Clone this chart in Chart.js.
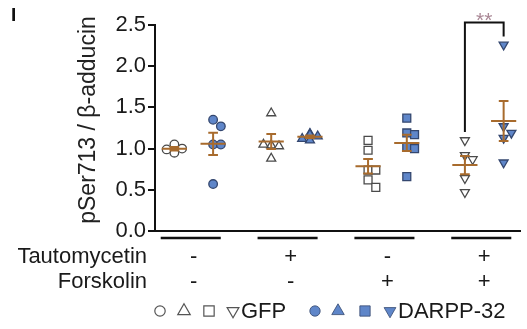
<!DOCTYPE html>
<html>
<head>
<meta charset="utf-8">
<script src="https://cdn.jsdelivr.net/npm/chart.js@4/dist/chart.umd.min.js"></script>
<style>
  html, body { margin: 0; padding: 0; background: #fff; }
  #wrap { width: 527px; height: 329px; }
</style>
</head>
<body>
<div id="wrap"><canvas id="graph" width="527" height="329"></canvas></div>
<script>
// datos
const groups = [0, 1, 2, 3];
const tautomycetin = ["-", "+", "-", "+"];
const forskolin = ["-", "-", "+", "+"];
const gfpValues = [
  [1.05, 0.95, 1.00, 0.99],
  [1.43, 1.04, 1.03, 1.05, 0.88],
  [1.10, 0.98, 0.74, 0.74, 0.62, 0.53],
  [1.10, 0.92, 0.87, 0.64, 0.47]
];
const darppValues = [
  [1.35, 1.27, 1.05, 1.05, 0.57],
  [1.18, 1.15, 1.12, 1.10, 1.17],
  [1.37, 1.19, 1.17, 1.02, 1.00, 0.66],
  [2.26, 1.27, 1.19, 1.13, 0.83]
];
const yTicks = [0, 0.5, 1.0, 1.5, 2.0, 2.5];
const yTitle = "pSer713 / \u03b2-adducin";
const seriesNames = ["GFP", "DARPP-32"];
const markerStyles = ["circle", "triangle", "rect", "triangle"];
const markerRotation = [0, 0, 0, 180];
const significance = "**";

// estilos
const FONT = "'Liberation Sans', Arial, sans-serif";
const blue = "#5f86c9";
const blueEdge = "#34476f";
const openEdge = "#4a4a4a";
const meanColor = "#a86b2d";
const seriesOffset = [-0.2, 0.2];

function mean(a) { return a.reduce((s, v) => s + v, 0) / a.length; }
function sem(a) {
  const m = mean(a);
  const sd = Math.sqrt(a.reduce((s, v) => s + (v - m) * (v - m), 0) / (a.length - 1));
  return sd / Math.sqrt(a.length);
}

// separa los puntos que se tapan (tipo beeswarm)
function swarm(values) {
  const placed = [];
  return values.map((v) => {
    const cands = [0, 0.08, -0.08, 0.15, -0.15];
    for (const dx of cands) {
      const ok = placed.every((p) => Math.abs(p.dx - dx) >= 0.075 || Math.abs(p.v - v) >= 0.1);
      if (ok) { placed.push({ v, dx }); return dx; }
    }
    placed.push({ v, dx: 0 });
    return 0;
  });
}

const datasets = [];
[gfpValues, darppValues].forEach((set, s) => {
  set.forEach((vals, g) => {
    const jit = swarm(vals);
    datasets.push({
      label: seriesNames[s] + " " + (g + 1),
      data: vals.map((v, i) => ({ x: groups[g] + seriesOffset[s] + jit[i], y: v })),
      pointStyle: markerStyles[g],
      rotation: markerRotation[g],
      pointRadius: markerStyles[g] === "circle" ? 4.3 : (markerStyles[g] === "rect" ? 5.6 : 5.2),
      pointHoverRadius: 5,
      backgroundColor: s === 0 ? "#ffffff" : blue,
      borderColor: s === 0 ? openEdge : blueEdge,
      borderWidth: 1.3
    });
  });
});

// media y SEM
const meanSemPlugin = {
  id: "meanSem",
  afterDatasetsDraw(chart) {
    const { ctx, scales: { x, y } } = chart;
    const unit = x.getPixelForValue(1) - x.getPixelForValue(0);
    ctx.save();
    ctx.strokeStyle = meanColor;
    ctx.lineWidth = 2;
    [gfpValues, darppValues].forEach((set, s) => {
      set.forEach((vals, g) => {
        const m = mean(vals), e = sem(vals);
        const cx = x.getPixelForValue(groups[g] + seriesOffset[s]);
        const ym = y.getPixelForValue(m), yt = y.getPixelForValue(m + e), yb = y.getPixelForValue(m - e);
        ctx.beginPath();
        ctx.moveTo(cx - 0.13 * unit, ym); ctx.lineTo(cx + 0.13 * unit, ym);
        ctx.moveTo(cx, yt); ctx.lineTo(cx, yb);
        ctx.moveTo(cx - 0.05 * unit, yt); ctx.lineTo(cx + 0.05 * unit, yt);
        ctx.moveTo(cx - 0.05 * unit, yb); ctx.lineTo(cx + 0.05 * unit, yb);
        ctx.stroke();
      });
    });
    ctx.restore();
  }
};

// textos, barras de condicion, leyenda y corchete
const extrasPlugin = {
  id: "extras",
  afterDraw(chart) {
    const { ctx, scales: { x, y } } = chart;
    const unit = x.getPixelForValue(1) - x.getPixelForValue(0);
    ctx.save();

    // etiqueta del panel
    ctx.fillStyle = "#111";
    ctx.font = "bold 19px " + FONT;
    ctx.textAlign = "left";
    ctx.textBaseline = "alphabetic";
    ctx.fillText("I", 11, 21);

    // titulo eje y
    ctx.save();
    ctx.translate(89, 120);
    ctx.rotate(-Math.PI / 2);
    ctx.font = "23px " + FONT;
    ctx.fillStyle = "#222";
    ctx.textAlign = "center";
    ctx.textBaseline = "middle";
    ctx.fillText(yTitle, 0, 0);
    ctx.restore();

    // barras bajo el eje
    ctx.strokeStyle = "#111";
    ctx.lineWidth = 2.5;
    groups.forEach((g) => {
      const cx = x.getPixelForValue(g) - 3;
      ctx.beginPath();
      ctx.moveTo(cx - 0.31 * unit, y.bottom + 7);
      ctx.lineTo(cx + 0.31 * unit, y.bottom + 7);
      ctx.stroke();
    });

    // filas de tratamiento
    ctx.fillStyle = "#1a1a1a";
    ctx.font = "22px " + FONT;
    ctx.textAlign = "right";
    ctx.fillText("Tautomycetin", 147, 263);
    ctx.fillText("Forskolin", 147, 288);
    ctx.textAlign = "center";
    groups.forEach((g) => {
      const cx = x.getPixelForValue(g);
      ctx.fillText(tautomycetin[g], cx, 263);
      ctx.fillText(forskolin[g], cx, 288);
    });

    // corchete de significancia
    const xl = x.getPixelForValue(groups[3] + seriesOffset[0]);
    const xr = x.getPixelForValue(groups[3] + seriesOffset[1]);
    ctx.strokeStyle = "#111";
    ctx.lineWidth = 2;
    ctx.beginPath();
    ctx.moveTo(xl, y.getPixelForValue(1.2));
    ctx.lineTo(xl, y.getPixelForValue(2.53));
    ctx.lineTo(xr, y.getPixelForValue(2.53));
    ctx.lineTo(xr, y.getPixelForValue(2.36));
    ctx.stroke();
    ctx.fillStyle = "#a98795";
    ctx.font = "21px " + FONT;
    ctx.textAlign = "center";
    ctx.textBaseline = "alphabetic";
    ctx.fillText(significance, (xl + xr) / 2, 27);

    // leyenda
    const ly = 311;
    const drawMark = (style, rot, r, px, filled) => {
      ctx.fillStyle = filled ? blue : "#ffffff";
      ctx.strokeStyle = filled ? blueEdge : "#555";
      ctx.lineWidth = filled ? 0.8 : 1.2;
      Chart.helpers.drawPoint(ctx, { pointStyle: style, rotation: rot, radius: r, borderWidth: ctx.lineWidth }, px, ly);
    };
    const gfpX = [160, 184, 209, 233];
    const darX = [315, 338, 365, 390];
    const rads = [5.2, 7.2, 7.3, 6.8];
    markerStyles.forEach((st, i) => drawMark(st, markerRotation[i], rads[i], gfpX[i], false));
    markerStyles.forEach((st, i) => drawMark(st, markerRotation[i], rads[i], darX[i], true));
    ctx.fillStyle = "#1a1a1a";
    ctx.font = "22px " + FONT;
    ctx.textAlign = "left";
    ctx.fillText(seriesNames[0], 241, 318);
    ctx.fillText(seriesNames[1], 398, 318);

    ctx.restore();
  }
};

const config = {
  type: "scatter",
  data: { datasets },
  options: {
    responsive: false,
    animation: false,
    layout: { padding: { left: 75, right: 5, top: 25, bottom: 98 } },
    plugins: { legend: { display: false }, tooltip: { enabled: false } },
    scales: {
      x: {
        type: "linear",
        min: -0.4,
        max: 3.37,
        ticks: { display: false },
        grid: { display: false },
        border: { display: true, color: "#111", width: 2 },
        afterFit: (scale) => { scale.height = 0; }
      },
      y: {
        min: 0,
        max: 2.5,
        afterBuildTicks: (scale) => { scale.ticks = yTicks.map((v) => ({ value: v })); },
        ticks: {
          padding: 2,
          color: "#1a1a1a",
          font: { family: FONT, size: 22 },
          callback: (v) => Number(v).toFixed(1)
        },
        grid: { drawOnChartArea: false, drawTicks: true, tickLength: 7, color: "#111", lineWidth: 2 },
        border: { display: true, color: "#111", width: 2 },
        afterFit: (scale) => { scale.width = 80; }
      }
    }
  },
  plugins: [meanSemPlugin, extrasPlugin]
};

window.myChart = new Chart(document.getElementById("graph"), config);
</script>
</body>
</html>
